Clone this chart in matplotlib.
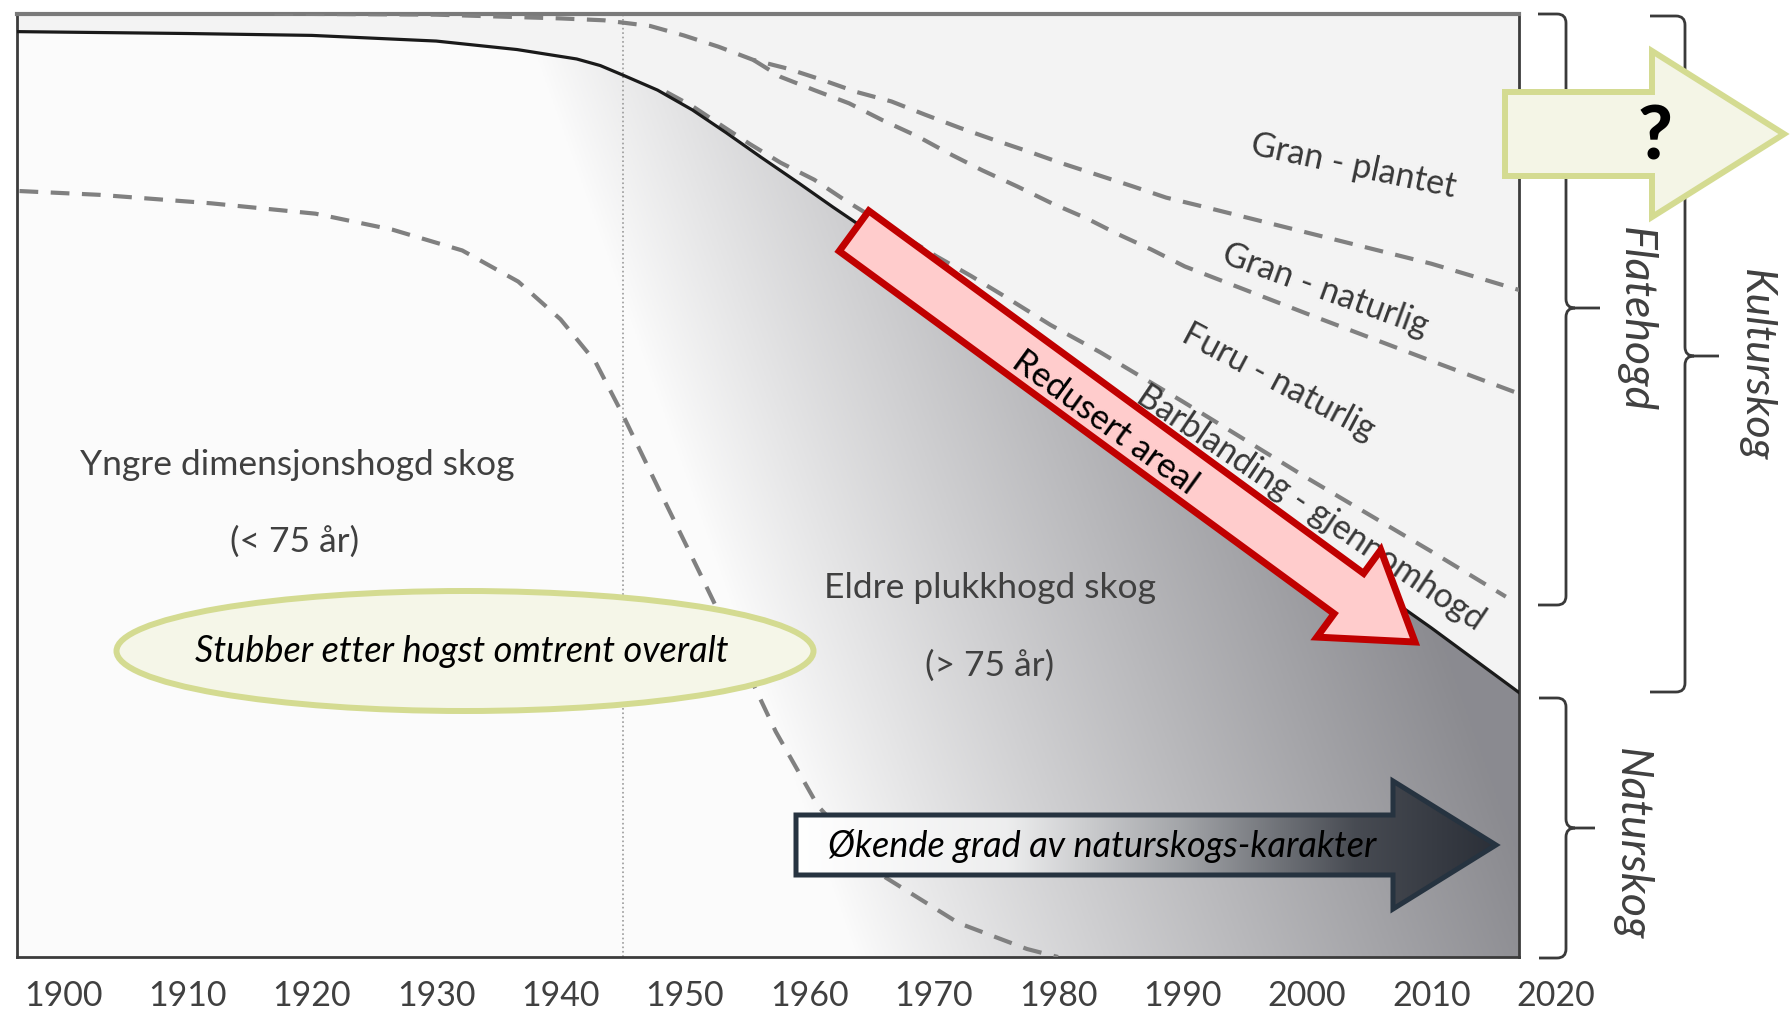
import numpy as np
import matplotlib.pyplot as plt
from matplotlib.patches import FancyArrow, Ellipse, PathPatch, Polygon
from matplotlib.path import Path
import matplotlib.transforms as mtransforms

# ---- data (year, share of area, %) ----
years_total = [1896.3, 1910, 1920, 1930, 1936.5, 1941.3, 1943.2, 1945.0, 1947.8,
               1950.6, 1953.3, 1956.1, 1959.2, 1961.9, 1963.8, 1980, 1990, 2000, 2010, 2017.1]
total = [98.1, 97.9, 97.7, 97.1, 96.2, 95.2, 94.5, 93.5, 91.9,
         89.8, 87.4, 84.8, 82.0, 79.5, 77.8, 62.6, 53.4, 44.2, 34.9, 28.0]

years_gran_plantet = [1917, 1930, 1940, 1943.5, 1947.2, 1949.9, 1952.7, 1955.5, 1958.2, 1961.0,
                      1963.8, 1966.6, 1969.3, 1972.1, 1974.9, 1977.6, 1980.4, 1983.2, 1986.0,
                      1988.7, 1991.2, 2000, 2010, 2017.1]
gran_plantet = [100, 99.9, 99.5, 99.3, 98.7, 97.7, 96.5, 95.1, 94.2, 93.0,
                91.7, 90.7, 89.3, 87.9, 86.6, 85.4, 84.1, 82.9, 81.7,
                80.5, 79.7, 76.8, 73.5, 70.7]

years_gran_nat = [1955.5, 1957.7, 1960.4, 1963.2, 1965.9, 1968.7, 1971.2, 1973.9, 1976.7,
                  1979.5, 1982.3, 1984.7, 1987.5, 1990.2, 2000, 2010, 2017.1]
gran_nat = [95.1, 93.3, 91.9, 90.5, 88.7, 87.0, 85.2, 83.4, 81.7,
            79.9, 78.3, 76.7, 75.0, 73.2, 68.2, 63.2, 59.7]

years_furu = [1948.5, 1950.6, 1953.0, 1955.2, 1957.7, 1960.4, 1962.9, 1970.2, 1973.0,
              1975.5, 1979.4, 1983.4, 1990, 2000, 2010, 2016]
furu = [91.7, 90.2, 88.1, 86.2, 84.2, 82.4, 80.2, 74.3, 72.2,
        70.2, 67.0, 64.1, 58.9, 50.8, 43.0, 38.2]

years_yngre = [1896.5, 1902.9, 1911.9, 1920.3, 1926.5, 1932.1, 1936.6, 1940.0, 1942.8, 1945.0,
               1947.9, 1951.2, 1954.5, 1957.3, 1960.7, 1965.8, 1972.0, 1977.5, 1980.0]
yngre = [81.2, 80.8, 79.9, 78.8, 77.1, 74.9, 71.6, 67.6, 63.1, 57.5,
         49.6, 40.7, 31.7, 23.9, 16.0, 8.7, 3.6, 0.85, 0.0]

tick_years = list(range(1900, 2030, 10))
war_year = 1945

band_labels = ['Gran - plantet', 'Gran - naturlig', 'Furu - naturlig', 'Barblanding - gjennomhogd']

W, H = 1791, 1014
FONT = 'Lato'
DASH_C = '#808080'

fig = plt.figure(figsize=(W / 100, H / 100), dpi=100)
fig.patch.set_facecolor('white')

ax = fig.add_axes([17 / W, 1 - 957 / H, (1519 - 17) / W, (957 - 13.7) / H])
x_lo, x_hi = 1896.3, 2017.06
ax.set_facecolor('#f3f3f3')

# shaded area under the total line (darker to the right)
xs = np.linspace(x_lo, x_hi, 700)
ys = np.linspace(0, 100, 300)
X, Y = np.meshgrid(xs, ys)
x0 = 1939 + (92 - Y) * 0.27
f = np.clip((X - x0) / 56, 0, 1) ** 0.9
g = 0.985 - 0.44 * f
rgb = np.dstack([g, g, np.clip(g + 0.02 * f, 0, 1)])
im = ax.imshow(rgb, extent=[x_lo, x_hi, 0, 100], origin='lower', aspect='auto', zorder=1)
clip = Polygon(list(zip(years_total, total)) + [(x_hi, 0), (x_lo, 0)],
               closed=True, facecolor='none', edgecolor='none', transform=ax.transData)
ax.add_patch(clip)
im.set_clip_path(clip)

ax.axvline(war_year, color='#9a9a9a', ls=':', lw=1.2, zorder=2)

dash = (0, (4.5, 3))
for xx, yy in [(years_gran_plantet, gran_plantet), (years_gran_nat, gran_nat),
               (years_furu, furu), (years_yngre, yngre)]:
    ax.plot(xx, yy, color=DASH_C, lw=3, ls=dash, zorder=3)
ax.plot(years_total, total, color='#1a1a1a', lw=2.3, zorder=4)

ax.set_xlim(x_lo, x_hi)
ax.set_ylim(0, 100)
ax.set_xticks([])
ax.set_yticks([])
for s in ['left', 'bottom', 'right']:
    ax.spines[s].set_color('#3c3c3c')
    ax.spines[s].set_linewidth(2)
ax.spines['top'].set_color('#7a7a7a')
ax.spines['top'].set_linewidth(3)

# year labels under the frame
tr = mtransforms.blended_transform_factory(ax.transData, ax.transAxes)
for yr in tick_years:
    ax.text(yr, -0.041, str(yr), transform=tr, ha='center', va='center',
            fontsize=24.5, color='#404040', family=FONT, clip_on=False)

# region labels
txt_c = '#404040'
ax.text(1918.8, 52.2, 'Yngre dimensjonshogd skog', ha='center', va='center',
        fontsize=25.5, color=txt_c, family=FONT, zorder=5)
ax.text(1918.6, 44.0, '(< 75 år)', ha='center', va='center', fontsize=25.5, color=txt_c, family=FONT, zorder=5)
ax.text(1974.5, 39.1, 'Eldre plukkhogd skog', ha='center', va='center', fontsize=25.5, color=txt_c, family=FONT, zorder=5)
ax.text(1974.5, 30.9, '(> 75 år)', ha='center', va='center', fontsize=25.5, color=txt_c, family=FONT, zorder=5)

# band labels, rotated along the lines (positions in pixels of the picture)
band_pos = [(1353, 166, -12), (1325, 290, -20), (1279, 382, -28), (1311, 508, -34)]

# ---- overlay in picture pixels for arrows, ellipse and braces ----
ov = fig.add_axes([0, 0, 1, 1], zorder=5)
ov.patch.set_alpha(0)
ov.axis('off')

for lab, (px, py, rot) in zip(band_labels, band_pos):
    ov.text(px, py, lab, ha='center', va='center', rotation=rot, rotation_mode='anchor',
            fontsize=24.5, color='#383838', family=FONT, zorder=1)

# red arrow
red = FancyArrow(854, 231, 1415 - 854, 642 - 231, width=50, head_width=108, head_length=82,
                 length_includes_head=True, facecolor='#ffcccc', edgecolor='#c00000',
                 lw=5, joinstyle='miter', zorder=3)
ov.add_patch(red)
ov.text(1105, 423, 'Redusert areal', ha='center', va='center', rotation=-36,
        rotation_mode='anchor', fontsize=25, color='black', family=FONT, zorder=4)

# ellipse
ell = Ellipse((465, 651), 697, 120, facecolor='#f5f6e8', edgecolor='#d4db91', lw=4.3, zorder=3)
ov.add_patch(ell)
ov.text(462, 651, 'Stubber etter hogst omtrent overalt', ha='center', va='center',
        fontsize=26, style='italic', color='black', family=FONT, zorder=4)

# dark arrow with gradient fill
dark = FancyArrow(796, 845, 1496 - 796, 0, width=60, head_width=128, head_length=103,
                  length_includes_head=True, facecolor='none', edgecolor='#263340',
                  lw=3.6, joinstyle='miter', zorder=4)
ov.add_patch(dark)
stops = np.array([[0.0, 1.0], [0.3, 0.93], [0.55, 0.64], [0.8, 0.28], [1.0, 0.17]])
gx = np.linspace(0, 1, 400)
gv = np.interp(gx, stops[:, 0], stops[:, 1])
grad = np.dstack([gv, gv + 0.02 * (1 - gv), gv + 0.06 * (1 - gv)])
gim = ov.imshow(grad, extent=(796, 1496, 915, 775), aspect='auto', zorder=3)
gim.set_clip_path(dark)
ov.text(828, 846, 'Økende grad av naturskogs-karakter', ha='left', va='center',
        fontsize=26, style='italic', color='black', family=FONT, zorder=5)

# green question arrow
green = FancyArrow(1505, 134, 1784 - 1505, 0, width=84, head_width=166, head_length=132,
                   length_includes_head=True, facecolor='#f4f5e6', edgecolor='#d4db91',
                   lw=4.3, joinstyle='miter', zorder=3)
ov.add_patch(green)
ov.text(1655, 138, '?', ha='center', va='center', fontsize=54, weight='black',
        color='black', family=FONT, zorder=4)


def brace(xl, xs_, xt, top, mid, bot, r=9):
    verts = [(xl, top), (xs_ - r, top), (xs_, top), (xs_, top + r), (xs_, mid - r),
             (xs_, mid), (xs_ + r, mid), (xt, mid),
             (xs_ + r, mid), (xs_, mid), (xs_, mid + r), (xs_, bot - r),
             (xs_, bot), (xs_ - r, bot), (xl, bot)]
    codes = [Path.MOVETO, Path.LINETO, Path.CURVE3, Path.CURVE3, Path.LINETO,
             Path.CURVE3, Path.CURVE3, Path.LINETO,
             Path.MOVETO, Path.CURVE3, Path.CURVE3, Path.LINETO,
             Path.CURVE3, Path.CURVE3, Path.LINETO]
    ov.add_patch(PathPatch(Path(verts, codes), facecolor='none', edgecolor='#3a3a3a',
                           lw=2, zorder=2))


brace(1538, 1566, 1600, 14, 308, 605)
brace(1539, 1566, 1595, 698, 828, 958)
brace(1650, 1685, 1719, 16, 356, 692)

side_c = '#404040'
ov.text(1635, 320, 'Flatehogd', rotation=-90, ha='center', va='center', fontsize=32,
        style='italic', color=side_c, family=FONT)
ov.text(1756, 365, 'Kulturskog', rotation=-90, ha='center', va='center', fontsize=31,
        style='italic', color=side_c, family=FONT)
ov.text(1631, 844, 'Naturskog', rotation=-90, ha='center', va='center', fontsize=32,
        style='italic', color=side_c, family=FONT)

ov.set_xlim(0, W)
ov.set_ylim(H, 0)

fig.savefig('out.png', dpi=100)
